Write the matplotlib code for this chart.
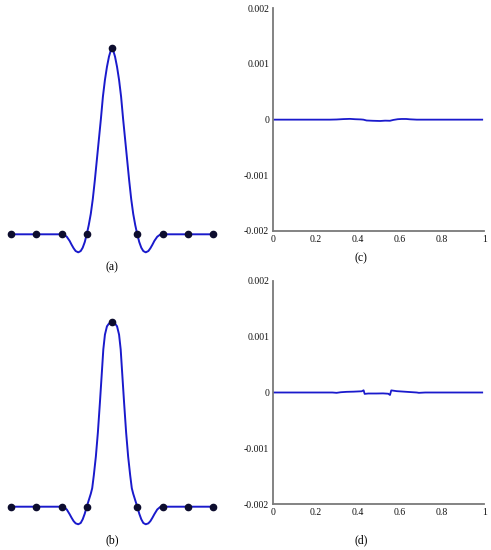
import matplotlib
matplotlib.use('Agg')
import matplotlib.pyplot as plt

plt.rcParams['font.family'] = ['Liberation Serif', 'DejaVu Serif']

# nodes (same for both left panels)
nodes_x = [0, 0.125, 0.25, 0.375, 0.5, 0.625, 0.75, 0.875, 1.0]
nodes_y = [0, 0, 0, 0, 1, 0, 0, 0, 0]

# (a) interpolating curve
xa = [0, 0.125, 0.25, 0.262, 0.276, 0.29, 0.30, 0.31, 0.32, 0.333, 0.345, 0.355, 0.365, 0.375,
      0.385, 0.395, 0.405, 0.415, 0.425, 0.435, 0.445, 0.455, 0.465, 0.475, 0.485, 0.493, 0.5,
      0.507, 0.515, 0.525, 0.535, 0.545, 0.555, 0.565, 0.575, 0.585, 0.595, 0.605, 0.615,
      0.625, 0.635, 0.645, 0.655, 0.667, 0.68, 0.69, 0.70, 0.71, 0.724, 0.738, 0.75, 0.875, 1.0]
ya = [0, 0, 0, -0.002, -0.013, -0.035, -0.056, -0.075, -0.09, -0.097, -0.09, -0.072, -0.042, 0,
      0.05, 0.11, 0.19, 0.29, 0.40, 0.51, 0.62, 0.74, 0.83, 0.90, 0.955, 0.985, 1.0,
      0.985, 0.955, 0.90, 0.83, 0.74, 0.62, 0.51, 0.40, 0.29, 0.19, 0.11, 0.05,
      0, -0.042, -0.072, -0.09, -0.097, -0.09, -0.075, -0.056, -0.035, -0.013, -0.002, 0, 0, 0]

# (b) second curve
xb = [0, 0.125, 0.25, 0.262, 0.276, 0.29, 0.30, 0.31, 0.32, 0.333, 0.345, 0.355, 0.365, 0.375,
      0.385, 0.395, 0.402, 0.41, 0.42, 0.43, 0.44, 0.45, 0.457, 0.465, 0.475, 0.485, 0.493, 0.5,
      0.507, 0.515, 0.525, 0.535, 0.543, 0.55, 0.56, 0.57, 0.58, 0.59, 0.598, 0.605, 0.615,
      0.625, 0.635, 0.645, 0.655, 0.667, 0.68, 0.69, 0.70, 0.71, 0.724, 0.738, 0.75, 0.875, 1.0]
yb = [0, 0, 0, -0.002, -0.015, -0.04, -0.06, -0.078, -0.09, -0.095, -0.088, -0.068, -0.038, 0,
      0.035, 0.07, 0.10, 0.17, 0.27, 0.40, 0.56, 0.73, 0.85, 0.93, 0.975, 0.99, 0.993, 1.0,
      0.993, 0.99, 0.975, 0.93, 0.85, 0.73, 0.56, 0.40, 0.27, 0.17, 0.10, 0.07, 0.035,
      0, -0.038, -0.068, -0.088, -0.095, -0.09, -0.078, -0.06, -0.04, -0.015, -0.002, 0, 0, 0]

# (c) error of (a)
xc = [0, 0.1, 0.2, 0.269, 0.30, 0.332, 0.363, 0.387, 0.415, 0.427, 0.442, 0.47, 0.506,
      0.53, 0.553, 0.569, 0.59, 0.608, 0.63, 0.648, 0.68, 0.75, 0.85, 0.99]
yc = [0, 0, 0, 0, 3e-6, 10e-6, 14e-6, 8e-6, 4e-6, 0, -15e-6, -20e-6, -24e-6,
      -18e-6, -20e-6, -5e-6, 8e-6, 12e-6, 12e-6, 6e-6, 0, 0, 0, 0]

# (d) error of (b)
xd = [0, 0.1, 0.2, 0.28, 0.30, 0.32, 0.348, 0.38, 0.419, 0.428, 0.433, 0.45, 0.49,
      0.52, 0.545, 0.553, 0.559, 0.585, 0.632, 0.68, 0.69, 0.72, 0.85, 0.99]
yd = [0, 0, 0, 0, -6e-6, 5e-6, 12e-6, 15e-6, 22e-6, 40e-6, -25e-6, -18e-6, -18e-6,
      -16e-6, -22e-6, -45e-6, 38e-6, 24e-6, 12e-6, 0, -6e-6, 0, 0, 0]

yticks = [-0.002, -0.001, 0, 0.001, 0.002]
ytick_labels = ['-0.002', '-0.001', '0', '0.001', '0.002']
xticks = [0, 0.2, 0.4, 0.6, 0.8, 1]
xtick_labels = ['0', '0.2', '0.4', '0.6', '0.8', '1']

LINE = '#1a1acc'
DOT = '#0d0d2e'
SPINE = '#7a7a7a'

fig = plt.figure(figsize=(4.91, 5.5), dpi=100)

def curve_panel(rect, x, y):
    ax = fig.add_axes(rect)
    ax.plot(x, y, color=LINE, lw=1.4, clip_on=False)
    ax.plot(nodes_x, nodes_y, 'o', color=DOT, ms=4.5, clip_on=False, zorder=3)
    ax.set_xlim(0, 1)
    ax.set_ylim(-0.15, 1.05)
    ax.axis('off')
    return ax

def error_panel(rect, x, y):
    ax = fig.add_axes(rect)
    ax.plot(x, y, color=LINE, lw=1.3)
    ax.set_xlim(0, 1)
    ax.set_ylim(-0.002, 0.002)
    for s in ['top', 'right']:
        ax.spines[s].set_visible(False)
    for s in ['left', 'bottom']:
        ax.spines[s].set_color(SPINE)
        ax.spines[s].set_linewidth(1.3)
    ax.set_yticks(yticks)
    ax.set_yticklabels(ytick_labels)
    ax.set_xticks(xticks)
    ax.set_xticklabels(xtick_labels)
    ax.tick_params(length=0, labelsize=7, pad=3, labelcolor='#111111')
    return ax

curve_panel([11/491, 1 - 262.2/550, 202/491, 223.2/550], xa, ya)
curve_panel([11/491, 1 - 534.45/550, 202/491, 222/550], xb, yb)
error_panel([273.3/491, 1 - 231/550, 211/491, 222.7/550], xc, yc)
error_panel([273.3/491, 1 - 504/550, 211/491, 223/550], xd, yd)

fig.text(112/491, 1 - 267/550, '(a)', ha='center', va='center', fontsize=8.5)
fig.text(361/491, 1 - 258/550, '(c)', ha='center', va='center', fontsize=8.5)
fig.text(112/491, 1 - 540/550, '(b)', ha='center', va='center', fontsize=8.5)
fig.text(361/491, 1 - 540/550, '(d)', ha='center', va='center', fontsize=8.5)

fig.savefig('out.png', dpi=100)
